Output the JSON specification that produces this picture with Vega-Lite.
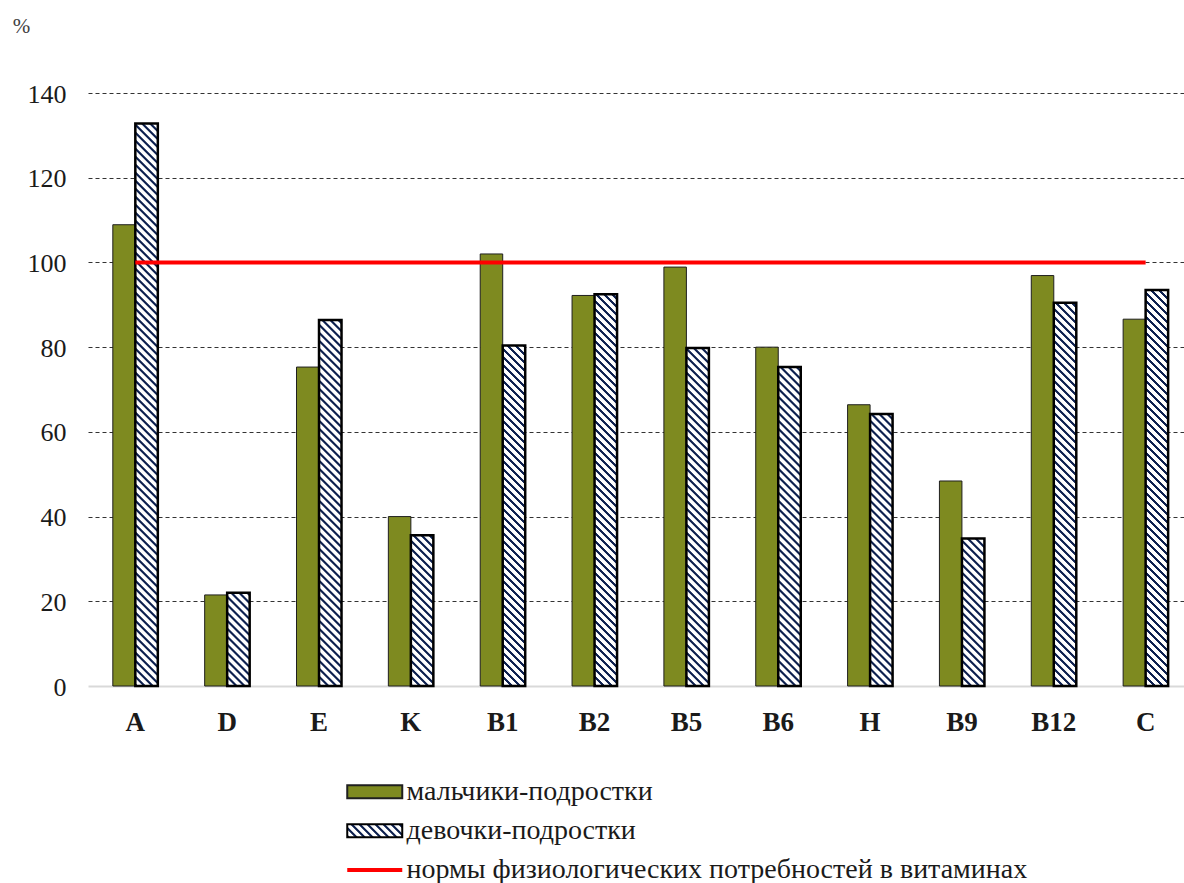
{
  "$schema": "https://vega.github.io/schema/vega-lite/v6.json",
  "autosize": "none",
  "width": 1096,
  "height": 593,
  "padding": {"left": 88, "top": 93, "right": 0, "bottom": 197},
  "background": "#ffffff",
  "config": {"view": {"stroke": null}, "font": "Liberation Serif"},
  "params": [
    {"name": "stripes", "value": [
      {"offset":0.0004,"color":"#0e2150"},{"offset":0.003,"color":"#0e2150"},{"offset":0.0042,"color":"#fff"},{"offset":0.0092,"color":"#fff"},
      {"offset":0.0104,"color":"#0e2150"},{"offset":0.013,"color":"#0e2150"},{"offset":0.0142,"color":"#fff"},{"offset":0.0192,"color":"#fff"},
      {"offset":0.0204,"color":"#0e2150"},{"offset":0.023,"color":"#0e2150"},{"offset":0.0242,"color":"#fff"},{"offset":0.0292,"color":"#fff"},
      {"offset":0.0304,"color":"#0e2150"},{"offset":0.033,"color":"#0e2150"},{"offset":0.0342,"color":"#fff"},{"offset":0.0392,"color":"#fff"},
      {"offset":0.0404,"color":"#0e2150"},{"offset":0.043,"color":"#0e2150"},{"offset":0.0442,"color":"#fff"},{"offset":0.0492,"color":"#fff"},
      {"offset":0.0504,"color":"#0e2150"},{"offset":0.053,"color":"#0e2150"},{"offset":0.0542,"color":"#fff"},{"offset":0.0592,"color":"#fff"},
      {"offset":0.0604,"color":"#0e2150"},{"offset":0.063,"color":"#0e2150"},{"offset":0.0642,"color":"#fff"},{"offset":0.0692,"color":"#fff"},
      {"offset":0.0704,"color":"#0e2150"},{"offset":0.073,"color":"#0e2150"},{"offset":0.0742,"color":"#fff"},{"offset":0.0792,"color":"#fff"},
      {"offset":0.0804,"color":"#0e2150"},{"offset":0.083,"color":"#0e2150"},{"offset":0.0842,"color":"#fff"},{"offset":0.0892,"color":"#fff"},
      {"offset":0.0904,"color":"#0e2150"},{"offset":0.093,"color":"#0e2150"},{"offset":0.0942,"color":"#fff"},{"offset":0.0992,"color":"#fff"},
      {"offset":0.1004,"color":"#0e2150"},{"offset":0.103,"color":"#0e2150"},{"offset":0.1042,"color":"#fff"},{"offset":0.1092,"color":"#fff"},
      {"offset":0.1104,"color":"#0e2150"},{"offset":0.113,"color":"#0e2150"},{"offset":0.1142,"color":"#fff"},{"offset":0.1192,"color":"#fff"},
      {"offset":0.1204,"color":"#0e2150"},{"offset":0.123,"color":"#0e2150"},{"offset":0.1242,"color":"#fff"},{"offset":0.1292,"color":"#fff"},
      {"offset":0.1304,"color":"#0e2150"},{"offset":0.133,"color":"#0e2150"},{"offset":0.1342,"color":"#fff"},{"offset":0.1392,"color":"#fff"},
      {"offset":0.1404,"color":"#0e2150"},{"offset":0.143,"color":"#0e2150"},{"offset":0.1442,"color":"#fff"},{"offset":0.1492,"color":"#fff"},
      {"offset":0.1504,"color":"#0e2150"},{"offset":0.153,"color":"#0e2150"},{"offset":0.1542,"color":"#fff"},{"offset":0.1592,"color":"#fff"},
      {"offset":0.1604,"color":"#0e2150"},{"offset":0.163,"color":"#0e2150"},{"offset":0.1642,"color":"#fff"},{"offset":0.1692,"color":"#fff"},
      {"offset":0.1704,"color":"#0e2150"},{"offset":0.173,"color":"#0e2150"},{"offset":0.1742,"color":"#fff"},{"offset":0.1792,"color":"#fff"},
      {"offset":0.1804,"color":"#0e2150"},{"offset":0.183,"color":"#0e2150"},{"offset":0.1842,"color":"#fff"},{"offset":0.1892,"color":"#fff"},
      {"offset":0.1904,"color":"#0e2150"},{"offset":0.193,"color":"#0e2150"},{"offset":0.1942,"color":"#fff"},{"offset":0.1992,"color":"#fff"},
      {"offset":0.2004,"color":"#0e2150"},{"offset":0.203,"color":"#0e2150"},{"offset":0.2042,"color":"#fff"},{"offset":0.2092,"color":"#fff"},
      {"offset":0.2104,"color":"#0e2150"},{"offset":0.213,"color":"#0e2150"},{"offset":0.2142,"color":"#fff"},{"offset":0.2192,"color":"#fff"},
      {"offset":0.2204,"color":"#0e2150"},{"offset":0.223,"color":"#0e2150"},{"offset":0.2242,"color":"#fff"},{"offset":0.2292,"color":"#fff"},
      {"offset":0.2304,"color":"#0e2150"},{"offset":0.233,"color":"#0e2150"},{"offset":0.2342,"color":"#fff"},{"offset":0.2392,"color":"#fff"},
      {"offset":0.2404,"color":"#0e2150"},{"offset":0.243,"color":"#0e2150"},{"offset":0.2442,"color":"#fff"},{"offset":0.2492,"color":"#fff"},
      {"offset":0.2504,"color":"#0e2150"},{"offset":0.253,"color":"#0e2150"},{"offset":0.2542,"color":"#fff"},{"offset":0.2592,"color":"#fff"},
      {"offset":0.2604,"color":"#0e2150"},{"offset":0.263,"color":"#0e2150"},{"offset":0.2642,"color":"#fff"},{"offset":0.2692,"color":"#fff"},
      {"offset":0.2704,"color":"#0e2150"},{"offset":0.273,"color":"#0e2150"},{"offset":0.2742,"color":"#fff"},{"offset":0.2792,"color":"#fff"},
      {"offset":0.2804,"color":"#0e2150"},{"offset":0.283,"color":"#0e2150"},{"offset":0.2842,"color":"#fff"},{"offset":0.2892,"color":"#fff"},
      {"offset":0.2904,"color":"#0e2150"},{"offset":0.293,"color":"#0e2150"},{"offset":0.2942,"color":"#fff"},{"offset":0.2992,"color":"#fff"},
      {"offset":0.3004,"color":"#0e2150"},{"offset":0.303,"color":"#0e2150"},{"offset":0.3042,"color":"#fff"},{"offset":0.3092,"color":"#fff"},
      {"offset":0.3104,"color":"#0e2150"},{"offset":0.313,"color":"#0e2150"},{"offset":0.3142,"color":"#fff"},{"offset":0.3192,"color":"#fff"},
      {"offset":0.3204,"color":"#0e2150"},{"offset":0.323,"color":"#0e2150"},{"offset":0.3242,"color":"#fff"},{"offset":0.3292,"color":"#fff"},
      {"offset":0.3304,"color":"#0e2150"},{"offset":0.333,"color":"#0e2150"},{"offset":0.3342,"color":"#fff"},{"offset":0.3392,"color":"#fff"},
      {"offset":0.3404,"color":"#0e2150"},{"offset":0.343,"color":"#0e2150"},{"offset":0.3442,"color":"#fff"},{"offset":0.3492,"color":"#fff"},
      {"offset":0.3504,"color":"#0e2150"},{"offset":0.353,"color":"#0e2150"},{"offset":0.3542,"color":"#fff"},{"offset":0.3592,"color":"#fff"},
      {"offset":0.3604,"color":"#0e2150"},{"offset":0.363,"color":"#0e2150"},{"offset":0.3642,"color":"#fff"},{"offset":0.3692,"color":"#fff"},
      {"offset":0.3704,"color":"#0e2150"},{"offset":0.373,"color":"#0e2150"},{"offset":0.3742,"color":"#fff"},{"offset":0.3792,"color":"#fff"},
      {"offset":0.3804,"color":"#0e2150"},{"offset":0.383,"color":"#0e2150"},{"offset":0.3842,"color":"#fff"},{"offset":0.3892,"color":"#fff"},
      {"offset":0.3904,"color":"#0e2150"},{"offset":0.393,"color":"#0e2150"},{"offset":0.3942,"color":"#fff"},{"offset":0.3992,"color":"#fff"},
      {"offset":0.4004,"color":"#0e2150"},{"offset":0.403,"color":"#0e2150"},{"offset":0.4042,"color":"#fff"},{"offset":0.4092,"color":"#fff"},
      {"offset":0.4104,"color":"#0e2150"},{"offset":0.413,"color":"#0e2150"},{"offset":0.4142,"color":"#fff"},{"offset":0.4192,"color":"#fff"},
      {"offset":0.4204,"color":"#0e2150"},{"offset":0.423,"color":"#0e2150"},{"offset":0.4242,"color":"#fff"},{"offset":0.4292,"color":"#fff"},
      {"offset":0.4304,"color":"#0e2150"},{"offset":0.433,"color":"#0e2150"},{"offset":0.4342,"color":"#fff"},{"offset":0.4392,"color":"#fff"},
      {"offset":0.4404,"color":"#0e2150"},{"offset":0.443,"color":"#0e2150"},{"offset":0.4442,"color":"#fff"},{"offset":0.4492,"color":"#fff"},
      {"offset":0.4504,"color":"#0e2150"},{"offset":0.453,"color":"#0e2150"},{"offset":0.4542,"color":"#fff"},{"offset":0.4592,"color":"#fff"},
      {"offset":0.4604,"color":"#0e2150"},{"offset":0.463,"color":"#0e2150"},{"offset":0.4642,"color":"#fff"},{"offset":0.4692,"color":"#fff"},
      {"offset":0.4704,"color":"#0e2150"},{"offset":0.473,"color":"#0e2150"},{"offset":0.4742,"color":"#fff"},{"offset":0.4792,"color":"#fff"},
      {"offset":0.4804,"color":"#0e2150"},{"offset":0.483,"color":"#0e2150"},{"offset":0.4842,"color":"#fff"},{"offset":0.4892,"color":"#fff"},
      {"offset":0.4904,"color":"#0e2150"},{"offset":0.493,"color":"#0e2150"},{"offset":0.4942,"color":"#fff"},{"offset":0.4992,"color":"#fff"},
      {"offset":0.5004,"color":"#0e2150"},{"offset":0.503,"color":"#0e2150"},{"offset":0.5042,"color":"#fff"},{"offset":0.5092,"color":"#fff"},
      {"offset":0.5104,"color":"#0e2150"},{"offset":0.513,"color":"#0e2150"},{"offset":0.5142,"color":"#fff"},{"offset":0.5192,"color":"#fff"},
      {"offset":0.5204,"color":"#0e2150"},{"offset":0.523,"color":"#0e2150"},{"offset":0.5242,"color":"#fff"},{"offset":0.5292,"color":"#fff"},
      {"offset":0.5304,"color":"#0e2150"},{"offset":0.533,"color":"#0e2150"},{"offset":0.5342,"color":"#fff"},{"offset":0.5392,"color":"#fff"},
      {"offset":0.5404,"color":"#0e2150"},{"offset":0.543,"color":"#0e2150"},{"offset":0.5442,"color":"#fff"},{"offset":0.5492,"color":"#fff"},
      {"offset":0.5504,"color":"#0e2150"},{"offset":0.553,"color":"#0e2150"},{"offset":0.5542,"color":"#fff"},{"offset":0.5592,"color":"#fff"},
      {"offset":0.5604,"color":"#0e2150"},{"offset":0.563,"color":"#0e2150"},{"offset":0.5642,"color":"#fff"},{"offset":0.5692,"color":"#fff"},
      {"offset":0.5704,"color":"#0e2150"},{"offset":0.573,"color":"#0e2150"},{"offset":0.5742,"color":"#fff"},{"offset":0.5792,"color":"#fff"},
      {"offset":0.5804,"color":"#0e2150"},{"offset":0.583,"color":"#0e2150"},{"offset":0.5842,"color":"#fff"},{"offset":0.5892,"color":"#fff"},
      {"offset":0.5904,"color":"#0e2150"},{"offset":0.593,"color":"#0e2150"},{"offset":0.5942,"color":"#fff"},{"offset":0.5992,"color":"#fff"},
      {"offset":0.6004,"color":"#0e2150"},{"offset":0.603,"color":"#0e2150"},{"offset":0.6042,"color":"#fff"},{"offset":0.6092,"color":"#fff"},
      {"offset":0.6104,"color":"#0e2150"},{"offset":0.613,"color":"#0e2150"},{"offset":0.6142,"color":"#fff"},{"offset":0.6192,"color":"#fff"},
      {"offset":0.6204,"color":"#0e2150"},{"offset":0.623,"color":"#0e2150"},{"offset":0.6242,"color":"#fff"},{"offset":0.6292,"color":"#fff"},
      {"offset":0.6304,"color":"#0e2150"},{"offset":0.633,"color":"#0e2150"},{"offset":0.6342,"color":"#fff"},{"offset":0.6392,"color":"#fff"},
      {"offset":0.6404,"color":"#0e2150"},{"offset":0.643,"color":"#0e2150"},{"offset":0.6442,"color":"#fff"},{"offset":0.6492,"color":"#fff"},
      {"offset":0.6504,"color":"#0e2150"},{"offset":0.653,"color":"#0e2150"},{"offset":0.6542,"color":"#fff"},{"offset":0.6592,"color":"#fff"},
      {"offset":0.6604,"color":"#0e2150"},{"offset":0.663,"color":"#0e2150"},{"offset":0.6642,"color":"#fff"},{"offset":0.6692,"color":"#fff"},
      {"offset":0.6704,"color":"#0e2150"},{"offset":0.673,"color":"#0e2150"},{"offset":0.6742,"color":"#fff"},{"offset":0.6792,"color":"#fff"},
      {"offset":0.6804,"color":"#0e2150"},{"offset":0.683,"color":"#0e2150"},{"offset":0.6842,"color":"#fff"},{"offset":0.6892,"color":"#fff"},
      {"offset":0.6904,"color":"#0e2150"},{"offset":0.693,"color":"#0e2150"},{"offset":0.6942,"color":"#fff"},{"offset":0.6992,"color":"#fff"},
      {"offset":0.7004,"color":"#0e2150"},{"offset":0.703,"color":"#0e2150"},{"offset":0.7042,"color":"#fff"},{"offset":0.7092,"color":"#fff"},
      {"offset":0.7104,"color":"#0e2150"},{"offset":0.713,"color":"#0e2150"},{"offset":0.7142,"color":"#fff"},{"offset":0.7192,"color":"#fff"},
      {"offset":0.7204,"color":"#0e2150"},{"offset":0.723,"color":"#0e2150"},{"offset":0.7242,"color":"#fff"},{"offset":0.7292,"color":"#fff"},
      {"offset":0.7304,"color":"#0e2150"},{"offset":0.733,"color":"#0e2150"},{"offset":0.7342,"color":"#fff"},{"offset":0.7392,"color":"#fff"},
      {"offset":0.7404,"color":"#0e2150"},{"offset":0.743,"color":"#0e2150"},{"offset":0.7442,"color":"#fff"},{"offset":0.7492,"color":"#fff"}
    ]}
  ],
  "datasets": {
    "bars": [
      {"v":"A","g":"мальчики-подростки","value":108.9},{"v":"A","g":"девочки-подростки","value":132.8},
      {"v":"D","g":"мальчики-подростки","value":21.5},{"v":"D","g":"девочки-подростки","value":22.0},
      {"v":"E","g":"мальчики-подростки","value":75.3},{"v":"E","g":"девочки-подростки","value":86.4},
      {"v":"K","g":"мальчики-подростки","value":40.0},{"v":"K","g":"девочки-подростки","value":35.6},
      {"v":"B1","g":"мальчики-подростки","value":102.0},{"v":"B1","g":"девочки-подростки","value":80.4},
      {"v":"B2","g":"мальчики-подростки","value":92.2},{"v":"B2","g":"девочки-подростки","value":92.5},
      {"v":"B5","g":"мальчики-подростки","value":98.9},{"v":"B5","g":"девочки-подростки","value":79.8},
      {"v":"B6","g":"мальчики-подростки","value":80.0},{"v":"B6","g":"девочки-подростки","value":75.3},
      {"v":"H","g":"мальчики-подростки","value":66.4},{"v":"H","g":"девочки-подростки","value":64.2},
      {"v":"B9","g":"мальчики-подростки","value":48.4},{"v":"B9","g":"девочки-подростки","value":34.8},
      {"v":"B12","g":"мальчики-подростки","value":96.9},{"v":"B12","g":"девочки-подростки","value":90.5},
      {"v":"C","g":"мальчики-подростки","value":86.6},{"v":"C","g":"девочки-подростки","value":93.5}
    ],
    "norm": [
      {"v":"A","norm":100},{"v":"D","norm":100},{"v":"E","norm":100},{"v":"K","norm":100},
      {"v":"B1","norm":100},{"v":"B2","norm":100},{"v":"B5","norm":100},{"v":"B6","norm":100},
      {"v":"H","norm":100},{"v":"B9","norm":100},{"v":"B12","norm":100},{"v":"C","norm":100}
    ]
  },
  "layer": [
    {
      "data": {"name": "bars"},
      "transform": [{"filter": "datum.g === 'мальчики-подростки'"}],
      "mark": {"type": "bar", "strokeWidth": 1},
      "encoding": {
        "x": {
          "field": "v", "type": "nominal", "sort": null,
          "scale": {"domain": ["A","D","E","K","B1","B2","B5","B6","H","B9","B12","C"], "paddingInner": 0.51, "paddingOuter": 0.2215, "align": 0.61},
          "axis": {"title": null, "labelAngle": 0, "labelFont": "Liberation Serif", "labelFontSize": 27, "labelFontWeight": "bold", "labelColor": "#1a1a1a", "labelPadding": 23, "ticks": false, "domain": false, "grid": false}
        },
        "xOffset": {"field": "g", "type": "nominal", "scale": {"domain": ["мальчики-подростки","девочки-подростки"], "paddingInner": 0, "paddingOuter": 0}},
        "y": {
          "field": "value", "type": "quantitative", "stack": null,
          "scale": {"domain": [0, 140], "nice": false},
          "axis": {
            "values": [0,20,40,60,80,100,120,140],
            "title": "%", "titleAngle": 0, "titleX": -67, "titleY": -61, "titleAlign": "center", "titleBaseline": "alphabetic",
            "titleFont": "Liberation Serif", "titleFontSize": 21, "titleFontWeight": "normal", "titleColor": "#404040",
            "labelFont": "Liberation Serif", "labelFontSize": 26, "labelColor": "#1a1a1a", "labelPadding": 22, "labelOffset": 1,
            "ticks": false, "domain": false, "grid": true,
            "gridColor": {"condition": {"test": "datum.value === 0", "value": "#d9d9d9"}, "value": "#333333"},
            "gridDash": {"condition": {"test": "datum.value === 0", "value": []}, "value": [4, 3]},
            "gridWidth": {"condition": {"test": "datum.value === 0", "value": 2}, "value": 1}
          }
        },
        "color": {
          "field": "g", "type": "nominal",
          "scale": {
            "domain": ["мальчики-подростки","девочки-подростки","нормы физиологических потребностей в витаминах"],
            "range": [
              "#7e8a20",
              {"expr": "{'gradient':'linear','x1':0,'y1':1,'x2':13.754,'y2':-2.301,'stops':stripes}"},
              {"expr": "{'gradient':'linear','x1':0,'y1':0,'x2':0,'y2':1,'stops':[{'offset':0.35,'color':'rgba(255,0,0,0)'},{'offset':0.35,'color':'#ff0000'},{'offset':0.65,'color':'#ff0000'},{'offset':0.65,'color':'rgba(255,0,0,0)'}]}"}
            ]
          },
          "legend": {
            "title": null, "orient": "none", "legendX": 271.75, "legendY": 683.75, "direction": "vertical", "padding": 0,
            "symbolSize": 756.25, "symbolType": "M-2,-0.48H2V0.48H-2Z", "symbolStrokeWidth": 2,
            "labelFont": "Liberation Serif", "labelFontSize": 28, "labelColor": "#1a1a1a", "labelOffset": 16.75, "labelLimit": 1200, "rowPadding": 10
          }
        },
        "stroke": {
          "field": "g", "type": "nominal",
          "scale": {
            "domain": ["мальчики-подростки","девочки-подростки","нормы физиологических потребностей в витаминах"],
            "range": ["#1f1f1f", "#000000", "rgba(0,0,0,0)"]
          }
        }
      }
    },
    {
      "data": {"name": "bars"},
      "transform": [{"filter": "datum.g === 'девочки-подростки'"}],
      "mark": {
        "type": "bar", "stroke": "#000000", "strokeWidth": 2.5,
        "fill": {"expr": "{'gradient':'linear','x1':0,'y1':1,'x2':800*bandwidth('xOffset')/(pow(bandwidth('xOffset'),2)+pow(scale('y',0)-scale('y',datum.value),2)),'y2':1-800*(scale('y',0)-scale('y',datum.value))/(pow(bandwidth('xOffset'),2)+pow(scale('y',0)-scale('y',datum.value),2)),'stops':stripes}"}
      },
      "encoding": {
        "x": {"field": "v", "type": "nominal", "sort": null},
        "xOffset": {"field": "g", "type": "nominal"},
        "y": {"field": "value", "type": "quantitative", "stack": null}
      }
    },
    {
      "data": {"name": "norm"},
      "mark": {"type": "line", "strokeWidth": 4, "color": "#ff0000"},
      "encoding": {
        "x": {"field": "v", "type": "nominal", "sort": null},
        "y": {"field": "norm", "type": "quantitative"}
      }
    }
  ]
}
